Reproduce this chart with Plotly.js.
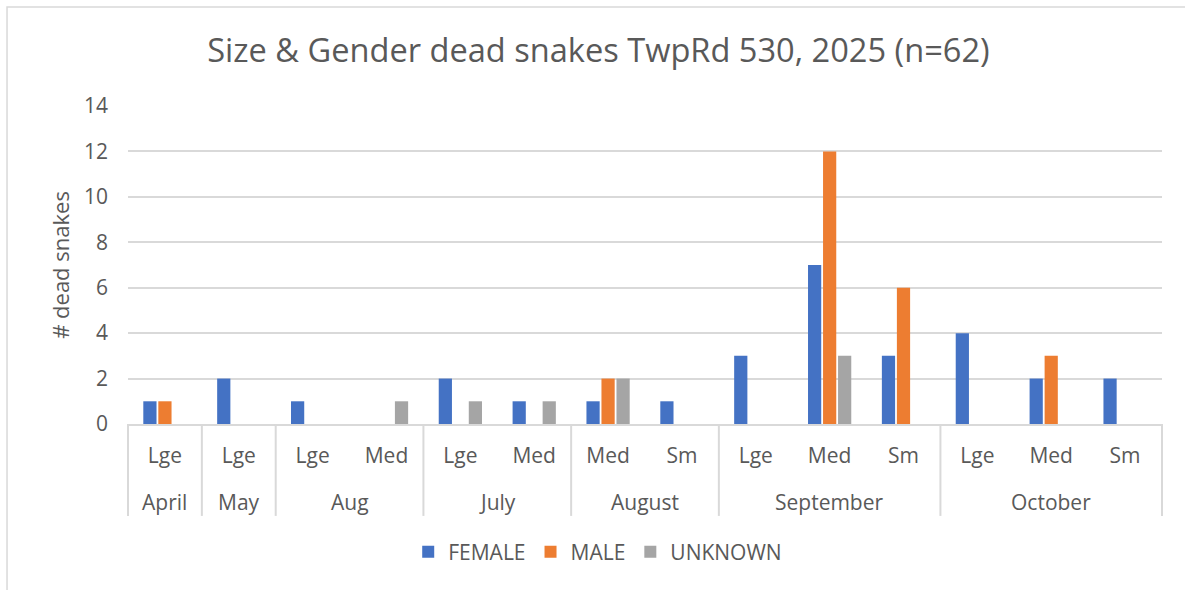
<!DOCTYPE html>
<html>
<head>
<meta charset="utf-8">
<script src="https://cdn.plot.ly/plotly-3.0.1.min.js"></script>
<style>html,body{margin:0;padding:0;background:#fff;}#chart{width:1185px;height:590px;}</style>
</head>
<body>
<div id="chart"></div>
<script>
const months = ["April","May","Aug","Aug","July","July","August","August","September","September","September","October","October","October"];
const sizes  = ["Lge","Lge","Lge","Med","Lge","Med","Med","Sm","Lge","Med","Sm","Lge","Med","Sm"];
const female  = [1,2,1,0,2,1,1,1,3,7,3,4,2,2];
const male    = [1,0,0,0,0,0,2,0,0,12,6,0,3,0];
const unknown = [0,0,0,1,1,1,2,0,0,3,0,0,0,0];
const seriesNames = ["FEMALE","MALE","UNKNOWN"];
const colors = ["#4472C4","#ED7D31","#A5A5A5"];

const FONT = "Open Sans, Noto Sans, sans-serif";
const GRAY = "#595959";
const LINE = "#d9d9d9";
const idx = sizes.map((_, i) => i);
const vals = [female, male, unknown];
const traces = vals.map((v, i) => ({
  type: "bar", x: idx, y: v, name: seriesNames[i],
  marker: {color: colors[i]}, hoverinfo: "none"
}));

// month groups (consecutive runs)
const groups = [];
months.forEach((m, i) => {
  const g = groups[groups.length - 1];
  if (g && g.name === m) g.end = i; else groups.push({name: m, start: i, end: i});
});
const xr = [-0.5, sizes.length - 0.5];
const frac = x => (x - xr[0]) / (xr[1] - xr[0]);
const DIV_BOTTOM = -0.289, MONTH_Y = -0.245;

const annotations = groups.map(g => ({
  xref: "x", yref: "paper", x: (g.start + g.end) / 2, y: MONTH_Y,
  text: g.name, showarrow: false, xanchor: "center", yanchor: "middle",
  font: {family: FONT, size: 21, color: GRAY}
}));
const bounds = groups.map(g => g.start - 0.5).concat([sizes.length - 0.5]);
const shapes = bounds.map(b => ({
  type: "line", xref: "paper", yref: "paper", x0: frac(b), x1: frac(b), y0: 0, y1: DIV_BOTTOM,
  line: {color: LINE, width: 2}
}));
shapes.push({type: "rect", xref: "paper", yref: "paper", x0: -0.117, x1: 1.05, y0: -0.7, y1: 1.311,
  line: {color: LINE, width: 1.5}, fillcolor: "rgba(0,0,0,0)", layer: "below"});

const layout = {
  width: 1185, height: 590,
  paper_bgcolor: "#fff", plot_bgcolor: "#fff",
  margin: {l: 128, r: 23, t: 106, b: 166},
  barmode: "group", bargap: 0.39, bargroupgap: 0.12,
  title: {text: "Size & Gender dead snakes TwpRd 530, 2025 (n=62)",
    font: {family: FONT, size: 32.6, color: GRAY}, x: 0.505, xanchor: "center",
    y: 0.915, yanchor: "middle"},
  font: {family: FONT, color: GRAY},
  xaxis: {
    range: xr, tickmode: "array", tickvals: idx, ticktext: sizes,
    showline: true, linecolor: LINE, linewidth: 2,
    tickfont: {family: FONT, size: 21, color: GRAY},
    ticks: "", ticklabelstandoff: 12, showgrid: false, zeroline: false, fixedrange: true
  },
  yaxis: {
    range: [0, 14], dtick: 2, tick0: 0,
    showgrid: true, gridcolor: LINE, gridwidth: 2,
    zeroline: false, showline: false, ticks: "",
    tickfont: {family: FONT, size: 21, color: GRAY},
    ticklabelstandoff: 19,
    title: {text: "# dead snakes", font: {family: FONT, size: 22, color: GRAY}, standoff: 8},
    fixedrange: true
  },
  showlegend: true,
  legend: {orientation: "h", x: 0.271, xanchor: "left", y: -0.4025, yanchor: "middle",
    font: {family: FONT, size: 21, color: GRAY}, traceorder: "normal"},
  annotations: annotations,
  shapes: shapes
};
Plotly.newPlot("chart", traces, layout, {displayModeBar: false, staticPlot: true});
</script>
</body>
</html>
